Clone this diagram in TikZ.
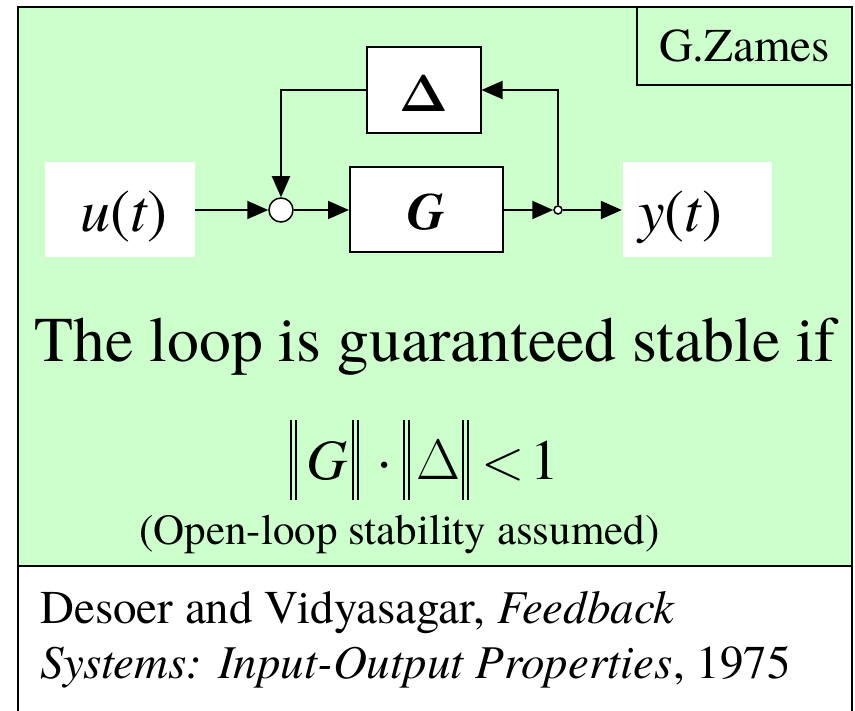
\RequirePackage{fix-cm}
\documentclass[tikz,border=0pt]{standalone}
\usepackage[no-math]{fontspec}
\setmainfont{texgyretermes}[Extension=.otf,
  UprightFont=*-regular, BoldFont=*-bold,
  ItalicFont=*-italic, BoldItalicFont=*-bolditalic]
\usetikzlibrary{arrows.meta}
\definecolor{panelgreen}{RGB}{204,255,204}
\begin{document}
\begin{tikzpicture}[x=1pt,y=-1pt,
  frame/.style={draw, line width=2pt},
  block/.style={draw, fill=white, line width=2pt, inner sep=0pt},
  sig/.style={fill=white, inner sep=0pt},
  wire/.style={line width=2pt, -{Triangle[length=21pt,width=18pt]}},
  bar/.style={line width=2pt},
  txt/.style={inner sep=0pt, anchor=base}]
\useasboundingbox (0,0) rectangle (855,711);

% panels
\path[frame, fill=panelgreen] (18,7) rectangle (852,566);
\path[frame, fill=white] (18,566) rectangle (852,730);
\node[frame, inner sep=0pt, minimum width=215pt, minimum height=78pt,
      font=\fontsize{47}{50}\selectfont] (zames) at (744.5,46) {G.Zames};

% blocks
\node[block, minimum width=114pt, minimum height=86pt] (dbox) at (423.5,90) {};
\node[block, minimum width=153pt, minimum height=85pt] (gbox) at (426.5,210) {};
\node[sig, minimum width=150pt, minimum height=95pt] (ubox) at (120,210) {};
\node[sig, minimum width=149pt, minimum height=95pt] (ybox) at (697.5,210) {};
\node[txt, font=\fontsize{52}{54}\selectfont] (dlabel) at (424,112) {$\mathbf{\Delta}$};
\node[txt, font=\fontsize{52}{54}\selectfont\bfseries\itshape] (glabel) at (426,230) {G};
\node[txt, anchor=base west, font=\fontsize{60}{62}\selectfont] (ulabel) at (80,232) {\textit{u}(\textit{t})};
\node[txt, anchor=base west, font=\fontsize{60}{62}\selectfont] (ylabel) at (638,232) {\textit{y}(\textit{t})};

% summing point and pick-off point
\node[circle, draw, fill=white, line width=1.5pt, inner sep=0pt, minimum size=24pt] (sum) at (281,210) {};
\node[circle, draw, fill=white, line width=1.5pt, inner sep=0pt, minimum size=8pt] (junc) at (558,210) {};

% signal flow
\draw[wire] (ubox.east) -- (sum.west);
\draw[wire] (sum.east) -- (gbox.west);
\draw[wire] (gbox.east) -- (junc.west);
\draw[wire, shorten >=1pt] (junc.east) -- (ybox.west);
\draw[wire] (junc.north) |- (dbox.east);
\draw[wire] (dbox.west) -| (sum.north);

% statement
\node[txt, font=\fontsize{63.7}{66}\selectfont] (stmt) at (435,362) {The loop is guaranteed stable if};

% small-gain condition
\draw[bar] (290.5,420) -- (290.5,500) (295.5,420) -- (295.5,500);
\draw[bar] (353,420) -- (353,500) (358,420) -- (358,500);
\draw[bar] (403.5,420) -- (403.5,500) (408.5,420) -- (408.5,500);
\draw[bar] (462.5,420) -- (462.5,500) (467.5,420) -- (467.5,500);
\begin{scope}[every node/.style={txt, font=\fontsize{57}{60}\selectfont}]
\node (fG) at (327,480) {\textit{G}};
\node (fdot) at (385,480) {·};
\node (fD) at (438.5,480) {$\Delta$};
\node (flt) at (503.5,480) {$<$};
\node (fone) at (545,480) {1};
\end{scope}

\node[txt, font=\fontsize{43}{45}\selectfont] (assume) at (399.5,544) {(Open-loop stability assumed)};

% reference
\node[txt, anchor=base west, font=\fontsize{47}{50}\selectfont] (cite1) at (40,623) {Desoer and Vidyasagar, \textit{Feedback}};
\node[txt, anchor=base west, font=\fontsize{47}{50}\selectfont] (cite2) at (40,678) {\textit{Systems: Input-Output Properties}, 1975};
\end{tikzpicture}
\end{document}
